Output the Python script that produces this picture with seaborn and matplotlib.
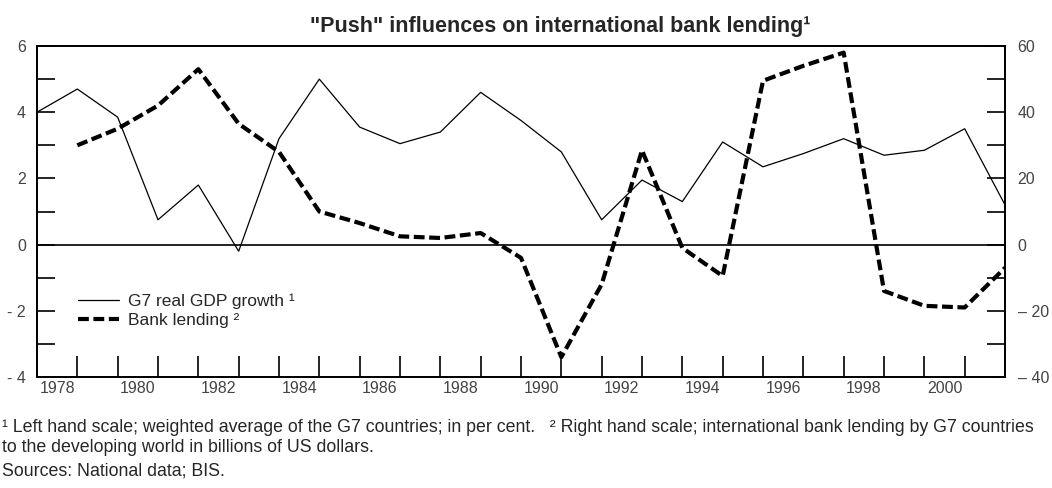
import pandas as pd
import matplotlib
matplotlib.use("Agg")
import matplotlib.pyplot as plt
import seaborn as sns
from matplotlib.ticker import MultipleLocator

sns.set_theme(style="white")
plt.rcParams['font.family'] = ['Liberation Sans', 'DejaVu Sans']

# data
gdp_years = list(range(1978, 2003))
gdp_growth = [4.0, 4.7, 3.85, 0.75, 1.8, -0.2, 3.2, 5.0, 3.55, 3.05, 3.4, 4.6, 3.75,
              2.8, 0.75, 1.95, 1.3, 3.1, 2.35, 2.75, 3.2, 2.7, 2.85, 3.5, 1.2]
bank_years = list(range(1979, 2003))
bank_lending = [30, 35, 42, 53, 36.5, 28, 10, 6.5, 2.5, 2, 3.5, -4, -34, -12, 28.5,
                -1, -9.5, 49.5, 54, 58, -14, -18.5, -19, -7]

label_years = list(range(1978, 2001, 2))
left_ticks = [-4, -2, 0, 2, 4, 6]
left_labels = ['- 4', '- 2', '0', '2', '4', '6']
right_ticks = [-40, -20, 0, 20, 40, 60]
right_labels = ['\u2013 40', '\u2013 20', '0', '20', '40', '60']

gdp = pd.DataFrame({'year': gdp_years, 'growth': gdp_growth})
bank = pd.DataFrame({'year': bank_years, 'lending': bank_lending})

W, H = 1052, 488
fig = plt.figure(figsize=(W / 100, H / 100), dpi=100)
ax = fig.add_axes([37 / W, 1 - 377 / H, (1005 - 37) / W, (377 - 46) / H])
ax2 = ax.twinx()

sns.lineplot(data=gdp, x='year', y='growth', ax=ax, color='black', linewidth=0.9)
gdp_line = ax.lines[-1]
sns.lineplot(data=bank, x='year', y='lending', ax=ax2, color='black', linewidth=3,
             linestyle=(0, (2.6, 1.1)))
bank_line = ax2.lines[-1]

ax.axhline(0, color='black', linewidth=1.2, zorder=1)

ax.set_xlim(1978, 2002)
ax.set_ylim(-4, 6)
ax2.set_ylim(-40, 60)
for a in (ax, ax2):
    a.set_xlabel('')
    a.set_ylabel('')
    for s in a.spines.values():
        s.set_color('black')
        s.set_linewidth(1.3)

# x axis: ticks on year boundaries, labels in the middle of even years
ax.set_xticks(range(1979, 2002))
ax.set_xticks([y + 0.5 for y in label_years], [str(y) for y in label_years], minor=True)
ax.tick_params(axis='x', which='major', direction='in', length=15, width=1.2,
               color='black', labelbottom=False, bottom=True)
ax.tick_params(axis='x', which='minor', length=0, pad=3, labelsize=11.5,
               labelcolor='#444444', bottom=True)

ax.set_yticks(left_ticks, left_labels)
ax.yaxis.set_minor_locator(MultipleLocator(1))
ax.tick_params(axis='y', which='both', direction='in', length=13, width=1.2,
               color='black', left=True, pad=8, labelsize=11.5, labelcolor='#444444')

ax2.set_yticks(right_ticks, right_labels)
ax2.yaxis.set_minor_locator(MultipleLocator(10))
ax2.tick_params(axis='y', which='both', direction='in', length=13, width=1.2,
                color='black', right=True, pad=9, labelsize=11.5, labelcolor='#444444')

ax2.legend([gdp_line, bank_line], ['G7 real GDP growth \u00b9', 'Bank lending \u00b2'],
           loc='center left', bbox_to_anchor=(32 / 968, 0.2), frameon=False,
           borderpad=0, handlelength=2.4, handletextpad=0.5, labelspacing=0.2,
           fontsize=12.5)

fig.text(560 / W, 1 - 32 / H, '"Push" influences on international bank lending\u00b9',
         ha='center', va='baseline', fontsize=15.5, fontweight='bold')

fig.text(2 / W, 1 - 432 / H,
         '\u00b9 Left hand scale; weighted average of the G7 countries; in per cent.   '
         '\u00b2 Right hand scale; international bank lending by G7 countries',
         ha='left', va='baseline', fontsize=12.8)
fig.text(2 / W, 1 - 452 / H, 'to the developing world in billions of US dollars.',
         ha='left', va='baseline', fontsize=12.8)
fig.text(2 / W, 1 - 476 / H, 'Sources: National data; BIS.',
         ha='left', va='baseline', fontsize=12.8)

fig.savefig('out.png', dpi=100)
